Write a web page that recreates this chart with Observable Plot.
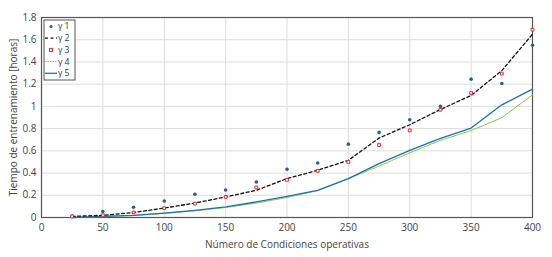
<!DOCTYPE html>
<html><head><meta charset="utf-8">
<script src="https://cdn.jsdelivr.net/npm/d3@7"></script>
<script src="https://cdn.jsdelivr.net/npm/@observablehq/plot@0.6"></script>
<style>body{margin:0;background:#fff;} svg{display:block;}</style>
</head><body><div id="chart"></div>
<script>
const xs = [25,50,75,100,125,150,175,200,225,250,275,300,325,350,375,400];
const y1 = [0.012,0.054,0.092,0.149,0.209,0.248,0.32,0.434,0.49,0.66,0.766,0.88,1.0,1.245,1.206,1.55];
const y2 = [0.01,0.02,0.045,0.085,0.13,0.185,0.245,0.35,0.425,0.515,0.715,0.835,0.972,1.098,1.322,1.65];
const y3 = [0.01,0.02,0.045,0.083,0.125,0.185,0.27,0.338,0.42,0.5,0.652,0.784,0.97,1.12,1.295,1.69];
const y4 = [0.0,0.008,0.018,0.037,0.06,0.09,0.13,0.18,0.243,0.35,0.463,0.583,0.694,0.783,0.898,1.104];
const y5 = [0.0,0.01,0.02,0.04,0.065,0.095,0.14,0.19,0.245,0.35,0.485,0.604,0.712,0.805,1.014,1.155];
const xTicks = [0,50,100,150,200,250,300,350,400];
const yTicks = [0,0.2,0.4,0.6,0.8,1,1.2,1.4,1.6,1.8];
const seriesNames = ["γ 1","γ 2","γ 3","γ 4","γ 5"];
const colors = {dot:"#2c5aa0", dash:"#111", sq:"#d9303a", green:"#7cc043", teal:"#1f72a8"};

const rows = (ys) => xs.map((x,i)=>({x, y: ys[i]}));
const fmt = d3.format("~g");

const chart = Plot.plot({
  width: 552, height: 257,
  marginLeft: 41, marginRight: 20, marginTop: 17, marginBottom: 40,
  style: {fontFamily: "'Open Sans', sans-serif", fontSize: "10px", color: "#444", background: "#fff"},
  x: {domain: [0,400]},
  y: {domain: [0,1.8]},
  marks: [
    Plot.gridX(xTicks, {stroke: "#ddd", strokeOpacity: 1}),
    Plot.gridY(yTicks, {stroke: "#ddd", strokeOpacity: 1}),
    Plot.axisX(xTicks, {tickSize: 0, tickPadding: 6, tickFormat: fmt, label: "Número de Condiciones operativas", labelAnchor: "center", labelArrow: "none", labelOffset: 30, fontSize: 10}),
    Plot.axisY(yTicks, {tickSize: 0, tickPadding: 5, tickFormat: fmt, label: "Tiempo de entrenamiento [horas]", labelAnchor: "center", labelArrow: "none", labelOffset: 32, fontSize: 10}),
    Plot.frame({stroke: "#555", strokeWidth: 1.2}),
    Plot.line(rows(y4), {x: "x", y: "y", stroke: colors.green, strokeWidth: 1, strokeDasharray: "1.5,1"}),
    Plot.line(rows(y5), {x: "x", y: "y", stroke: colors.teal, strokeWidth: 1.3}),
    Plot.line(rows(y2), {x: "x", y: "y", stroke: colors.dash, strokeWidth: 1.3, strokeDasharray: "3,2.5"}),
    Plot.dot(rows(y1), {x: "x", y: "y", r: 1.8, fill: colors.dot, stroke: "none"}),
    Plot.dot(rows(y3), {x: "x", y: "y", r: 1.6, symbol: "square", stroke: colors.sq, fill: "#fff", strokeWidth: 1})
  ]
});
document.getElementById("chart").appendChild(chart);

// legend
const svg = d3.select(chart);
const lg = svg.append("g").attr("transform", "translate(44,20)").attr("text-anchor", "start");
lg.append("rect").attr("width", 31).attr("height", 60).attr("fill", "#fff").attr("stroke", "#555").attr("stroke-width", 1);
const items = ["dot", "dash", "sq", "green", "teal"];
items.forEach((type, i) => {
  const cy = 6.5 + i * 11.7;
  const g = lg.append("g");
  if (type === "dot") g.append("circle").attr("cx", 7).attr("cy", cy).attr("r", 1.6).attr("fill", colors.dot);
  if (type === "sq") g.append("rect").attr("x", 5.5).attr("y", cy-1.5).attr("width", 3).attr("height", 3).attr("fill", "#fff").attr("stroke", colors.sq);
  if (type === "dash") g.append("line").attr("x1", 1).attr("x2", 13).attr("y1", cy).attr("y2", cy).attr("stroke", colors.dash).attr("stroke-width", 1.2).attr("stroke-dasharray", "3,2.5");
  if (type === "green") g.append("line").attr("x1", 1).attr("x2", 13).attr("y1", cy).attr("y2", cy).attr("stroke", colors.green).attr("stroke-dasharray", "1.5,1");
  if (type === "teal") g.append("line").attr("x1", 1).attr("x2", 13).attr("y1", cy).attr("y2", cy).attr("stroke", colors.teal).attr("stroke-width", 1.3);
  g.append("text").attr("x", 14).attr("y", cy).attr("dy", "0.35em").attr("font-size", 8.5).attr("fill", "#333").text(seriesNames[i]);
});
</script></body></html>
